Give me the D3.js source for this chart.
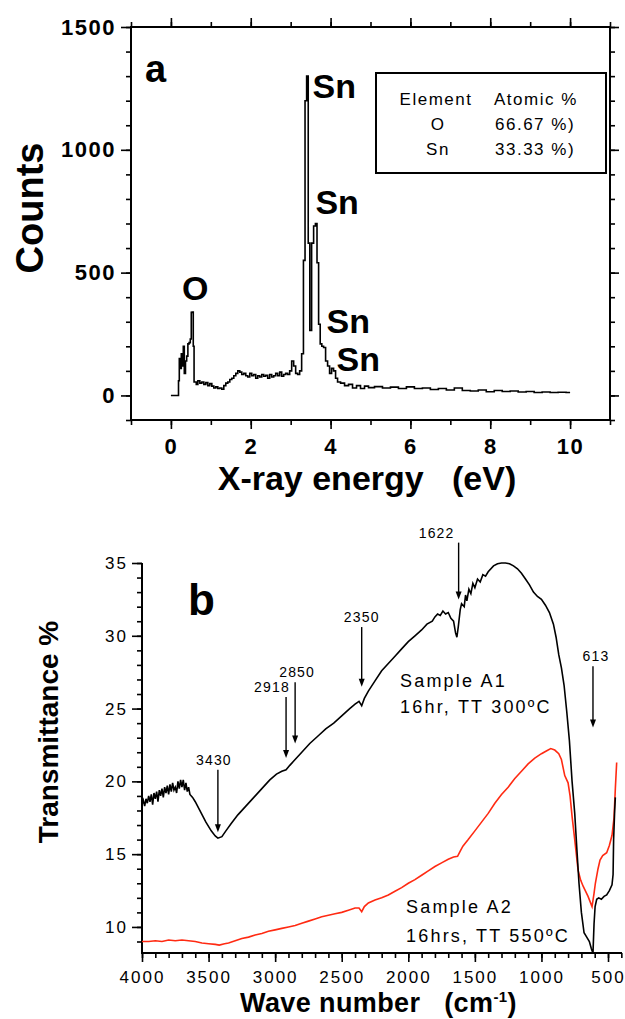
<!DOCTYPE html>
<html lang="en">
<head>
<meta charset="utf-8">
<script src="https://d3js.org/d3.v7.min.js"></script>
<style>
    body { margin: 0; background: #fff; }
    svg { display: block; font-family: "Liberation Sans", Arial, sans-serif; }
    .frame { fill: none; stroke: #000; stroke-width: 2px; }
    .axis line { stroke: #000; stroke-width: 1.6px; }
    .axis path { display: none; }
    .bold { font-weight: bold; }
</style>
</head>
<body>
<div id="chart"></div>
<script>
// ---- panel a : EDS spectrum ----
const edsEnergy = [0.00, 0.10, 0.18, 0.20, 0.22, 0.25, 0.27, 0.30, 0.32, 0.35, 0.38, 0.41, 0.44, 0.47, 0.50, 0.52, 0.55, 0.57, 0.59,
    0.62, 0.65, 0.70, 0.75, 0.80, 0.85, 0.90, 0.95, 1.00, 1.05, 1.10, 1.15, 1.20, 1.25, 1.30, 1.35, 1.40, 1.45, 1.50, 1.55, 1.60,
    1.65, 1.70, 1.75, 1.80, 1.85, 1.90, 1.95, 2.00, 2.05, 2.10, 2.15, 2.20, 2.25, 2.30, 2.35, 2.40, 2.45, 2.50, 2.55, 2.60, 2.65,
    2.70, 2.75, 2.80, 2.85, 2.90, 2.95, 3.00, 3.05, 3.10, 3.15, 3.20, 3.25, 3.30, 3.34, 3.38, 3.42, 3.46, 3.50, 3.55, 3.60, 3.64,
    3.68, 3.72, 3.76, 3.80, 3.85, 3.90, 3.95, 4.00, 4.05, 4.10, 4.15, 4.20, 4.30, 4.40, 4.50, 4.60, 4.70, 4.80, 4.90, 5.00, 5.20,
    5.40, 5.60, 5.80, 6.00, 6.20, 6.40, 6.60, 6.80, 7.00, 7.20, 7.40, 7.60, 7.80, 8.00, 8.20, 8.40, 8.60, 8.80, 9.00, 9.20, 9.40,
    9.60, 9.80, 10.00];
const edsCounts = [0, 0, 0, 60, 150, 110, 170, 120, 200, 90, 140, 160, 210, 215, 230, 338, 340, 200, 55,
    55, 45, 60, 50, 55, 45, 52, 40, 48, 38, 30, 35, 28, 30, 25, 40, 50, 55, 65, 70, 80,
    90, 100, 95, 85, 90, 80, 75, 90, 80, 85, 70, 80, 75, 85, 78, 82, 70, 85, 75, 80, 90,
    80, 95, 78, 85, 90, 85, 100, 140, 120, 90, 85, 100, 170, 550, 1200, 1300, 620, 265, 620, 690, 700,
    540, 290, 210, 200, 195, 140, 120, 90, 110, 100, 70, 55, 50, 40, 45, 30, 40, 28, 38, 32, 36,
    30, 34, 28, 35, 28, 30, 24, 28, 22, 30, 20, 18, 22, 15, 20, 16, 18, 14, 16, 12, 14,
    12, 13, 12];
const edsXTicks = [0, 2, 4, 6, 8, 10];
const edsYTicks = [0, 500, 1000, 1500];
const peakLabels = ['O', 'Sn', 'Sn', 'Sn', 'Sn'];
const tableHead = ['Element', 'Atomic %'];
const tableElements = ['O', 'Sn'];
const tableAtomic = ['66.67 %)', '33.33 %)'];

// ---- panel b : FTIR transmittance ----
const a1Wave = [4000, 3990, 3980, 3970, 3960, 3950, 3940, 3930, 3920, 3910, 3900, 3890, 3880, 3870, 3860, 3850, 3840, 3830,
    3820, 3810, 3800, 3790, 3780, 3770, 3760, 3750, 3740, 3730, 3720, 3710, 3700, 3690, 3680, 3670, 3660, 3650, 3640, 3620,
    3600, 3560, 3520, 3480, 3450, 3430, 3400, 3370, 3330, 3280, 3220, 3160, 3100, 3040, 2990, 2950, 2918, 2890,
    2850, 2800, 2740, 2680, 2620, 2560, 2500, 2440, 2400, 2370, 2350, 2330, 2300, 2250, 2200, 2150, 2100, 2050, 2000, 1950,
    1900, 1860, 1820, 1800, 1780, 1760, 1740, 1720, 1700, 1680, 1660, 1645, 1635, 1625, 1610, 1600, 1580, 1570, 1560, 1545,
    1530, 1515, 1500, 1480, 1460, 1440, 1420, 1400, 1360, 1330, 1300, 1270, 1240, 1210, 1180, 1150, 1120, 1090, 1060, 1030,
    1000, 970, 940, 910, 890, 870, 850, 830, 810, 790, 770, 750, 735, 718, 700, 680, 660, 640, 625, 613, 605, 597, 585, 570,
    550, 530, 510, 490, 470, 462, 458, 450, 445];
const a1Trans = [18.4, 18.7, 18.3, 18.8, 18.5, 19.0, 18.6, 19.1, 18.4, 19.2, 18.8, 19.3, 18.6, 19.4, 19.0, 19.5, 18.9, 19.6,
    19.2, 19.7, 19.1, 19.8, 19.3, 19.9, 19.4, 19.6, 19.2, 20.0, 19.5, 20.1, 19.6, 20.1, 19.4, 19.9, 19.3, 19.6, 19.1, 18.9,
    18.6, 17.9, 17.2, 16.6, 16.25, 16.1, 16.2, 16.6, 17.1, 17.7, 18.3, 18.9, 19.5, 20.1, 20.5, 20.7, 20.8, 21.1,
    21.5, 22.0, 22.6, 23.1, 23.6, 24.0, 24.5, 25.0, 25.3, 25.5, 25.2, 25.7, 26.2, 26.9, 27.6, 28.1, 28.6, 29.1, 29.6, 30.0,
    30.4, 30.8, 31.0, 31.3, 31.5, 31.4, 31.7, 31.5, 31.6, 31.2, 31.0, 30.2, 29.9, 30.6, 31.8, 32.2, 32.0, 32.8, 32.4, 33.2,
    32.9, 33.6, 33.3, 33.9, 33.7, 34.2, 34.1, 34.4, 34.8, 34.95, 35.0, 35.0, 34.95, 34.8, 34.6, 34.3, 33.9, 33.5, 33.0, 32.7,
    32.5, 32.1, 31.6, 30.8, 29.9, 28.7, 27.8, 26.6, 24.8, 22.8, 20.0, 17.8, 15.5, 13.0, 11.0, 9.6, 9.3, 9.0, 8.5, 8.2, 10.2, 11.4, 11.9, 12.0,
    11.9, 12.1, 12.2, 12.5, 12.9, 13.6, 16.0, 18.0, 18.9];
const a2Wave = [4000, 3950, 3900, 3850, 3800, 3750, 3700, 3650, 3600, 3550, 3500, 3450, 3420, 3380, 3350, 3300, 3250, 3200,
    3150, 3100, 3050, 3000, 2950, 2900, 2850, 2800, 2750, 2700, 2650, 2600, 2550, 2500, 2450, 2400, 2370, 2350, 2330, 2300,
    2250, 2200, 2150, 2100, 2050, 2000, 1950, 1900, 1850, 1800, 1750, 1700, 1660, 1630, 1610, 1590, 1550, 1500, 1450, 1400,
    1350, 1300, 1250, 1200, 1150, 1100, 1050, 1000, 960, 930, 900, 870, 850, 825, 800, 785, 770, 750, 725, 705, 687, 650,
    620, 605, 595, 575, 560, 540, 510, 490, 470, 455, 445, 435];
const a2Trans = [9.0, 9.0, 9.05, 9.0, 9.1, 9.05, 9.1, 9.05, 9.0, 8.9, 8.85, 8.8, 8.75, 8.85, 8.9, 9.05, 9.2, 9.3,
    9.45, 9.55, 9.7, 9.8, 9.9, 10.0, 10.1, 10.25, 10.4, 10.55, 10.7, 10.8, 10.9, 11.0, 11.15, 11.3, 11.3, 11.05, 11.4, 11.65,
    11.85, 12.0, 12.2, 12.45, 12.7, 13.0, 13.25, 13.55, 13.85, 14.15, 14.4, 14.65, 14.8, 14.85, 15.2, 15.55, 16.0, 16.6, 17.2, 17.8,
    18.5, 19.1, 19.6, 20.2, 20.7, 21.2, 21.6, 21.9, 22.1, 22.25, 22.15, 21.9, 21.5, 20.4, 19.9, 19.0, 17.6, 16.0, 13.9, 13.2, 12.8, 12.1,
    11.4, 12.3, 13.0, 14.0, 14.6, 14.9, 15.1, 15.6, 16.3, 17.5, 19.5, 21.3];
const irXTicks = [4000, 3500, 3000, 2500, 2000, 1500, 1000, 500];
const irYTicks = [10, 15, 20, 25, 30, 35];
// marked bands: wavenumber, arrow start and end (transmittance)
const bandWave = [3430, 2918, 2850, 2350, 1622, 613];
const bandFrom = [20.8, 25.8, 26.8, 30.6, 36.4, 27.9];
const bandTo = [16.5, 21.6, 22.6, 26.5, 32.5, 23.7];
const sampleNames = ['Sample A1', 'Sample A2'];
const sampleInfo = ['16hr, TT 300\u00baC', '16hrs, TT 550\u00baC'];

const svg = d3.select('#chart').append('svg')
    .attr('width', 625)
    .attr('height', 1019);

// ================= panel a =================
const xA = d3.scaleLinear().domain([-1, 11]).range([131, 610]);
const yA = d3.scaleLinear().domain([-100, 1500]).range([420, 27]);
const gA = svg.append('g');

function styleTicks(g, size, weight, spacing) {
    g.selectAll('text')
        .attr('font-family', '"Liberation Sans", Arial, sans-serif')
        .attr('font-size', size)
        .attr('font-weight', weight)
        .style('letter-spacing', spacing + 'px');
}

const aMinorX = d3.range(-1, 12, 1);
const aMinorY = d3.range(-100, 1501, 100);

// bottom
gA.append('g').attr('class', 'axis').attr('transform', 'translate(0,420)')
    .call(d3.axisBottom(xA).tickValues(aMinorX).tickSize(5).tickFormat(''));
gA.append('g').attr('class', 'axis').attr('transform', 'translate(0,420)')
    .call(d3.axisBottom(xA).tickValues(edsXTicks).tickSize(9).tickPadding(9).tickFormat(d3.format('d')))
    .call(g => styleTicks(g, 22, 'bold', 1.5));
// top
gA.append('g').attr('class', 'axis').attr('transform', 'translate(0,27)')
    .call(d3.axisTop(xA).tickValues(aMinorX).tickSize(5).tickFormat(''));
gA.append('g').attr('class', 'axis').attr('transform', 'translate(0,27)')
    .call(d3.axisTop(xA).tickValues(edsXTicks).tickSize(9).tickFormat(''));
// left
gA.append('g').attr('class', 'axis').attr('transform', 'translate(131,0)')
    .call(d3.axisLeft(yA).tickValues(aMinorY).tickSize(5).tickFormat(''));
gA.append('g').attr('class', 'axis').attr('transform', 'translate(131,0)')
    .call(d3.axisLeft(yA).tickValues(edsYTicks).tickSize(10).tickPadding(5).tickFormat(d3.format('d')))
    .call(g => styleTicks(g, 22, 'bold', 1.5));
// right
gA.append('g').attr('class', 'axis').attr('transform', 'translate(610,0)')
    .call(d3.axisRight(yA).tickValues(aMinorY).tickSize(5).tickFormat(''));
gA.append('g').attr('class', 'axis').attr('transform', 'translate(610,0)')
    .call(d3.axisRight(yA).tickValues(edsYTicks).tickSize(9).tickFormat(''));

gA.append('rect').attr('class', 'frame')
    .attr('x', 131).attr('y', 27).attr('width', 479).attr('height', 393);

// spectrum
const edsData = edsEnergy.map((e, i) => [e, edsCounts[i]]);
gA.append('path')
    .datum(edsData)
    .attr('fill', 'none')
    .attr('stroke', '#000')
    .attr('stroke-width', 1.6)
    .attr('d', d3.line().x(d => xA(d[0])).y(d => yA(d[1])).curve(d3.curveStep));

// peak labels (energy, counts of the label baseline)
const peakPos = [[0.28, 387], [3.55, 1210], [3.62, 740], [3.9, 255], [4.15, 100]];
gA.selectAll('.peak').data(peakLabels).enter().append('text')
    .attr('class', 'bold')
    .attr('x', (d, i) => xA(peakPos[i][0]))
    .attr('y', (d, i) => yA(peakPos[i][1]))
    .attr('font-size', 34)
    .text(d => d);

gA.append('text').attr('class', 'bold')
    .attr('x', 145).attr('y', 82).attr('font-size', 38).text('a');

// composition table
gA.append('rect').attr('class', 'frame')
    .attr('x', 376).attr('y', 73).attr('width', 230).attr('height', 100);
const tbl = gA.append('g').attr('font-size', 17).style('letter-spacing', '1.5px');
tbl.append('text').attr('x', 436).attr('y', 105).attr('text-anchor', 'middle').text(tableHead[0]);
tbl.append('text').attr('x', 494).attr('y', 105).text(tableHead[1]);
tableElements.forEach((el, i) => {
    tbl.append('text').attr('x', 438).attr('y', 130 + i * 25).attr('text-anchor', 'middle').text(el);
    tbl.append('text').attr('x', 495).attr('y', 130 + i * 25).text(tableAtomic[i]);
});

// axis titles
gA.append('text').attr('class', 'bold')
    .attr('transform', 'translate(43,208) rotate(-90)')
    .attr('text-anchor', 'middle')
    .attr('font-size', 38)
    .text('Counts');
gA.append('text').attr('class', 'bold')
    .attr('x', 367).attr('y', 490)
    .attr('text-anchor', 'middle')
    .attr('font-size', 34)
    .style('white-space', 'pre')
    .text('X-ray energy   (eV)');

// ================= panel b =================
const xB = d3.scaleLinear().domain([4000, 395]).range([142, 622]);
const yB = d3.scaleLinear().domain([8.21, 35]).range([953, 563]);
const gB = svg.append('g');

gB.append('g').attr('class', 'axis').attr('transform', 'translate(0,953)')
    .call(d3.axisBottom(xB).tickValues(d3.range(400, 4001, 100)).tickSize(5).tickFormat(''));
gB.append('g').attr('class', 'axis').attr('transform', 'translate(0,953)')
    .call(d3.axisBottom(xB).tickValues(irXTicks).tickSize(9).tickPadding(9).tickFormat(d3.format('d')))
    .call(g => styleTicks(g, 17, 'normal', 2));
gB.append('g').attr('class', 'axis').attr('transform', 'translate(142,0)')
    .call(d3.axisLeft(yB).tickValues(d3.range(9, 36, 1)).tickSize(5).tickFormat(''));
gB.append('g').attr('class', 'axis').attr('transform', 'translate(142,0)')
    .call(d3.axisLeft(yB).tickValues(irYTicks).tickSize(10).tickPadding(4).tickFormat(d3.format('d')))
    .call(g => styleTicks(g, 17, 'normal', 2));

gB.append('line').attr('x1', 142).attr('x2', 142).attr('y1', yB(35)).attr('y2', 953)
    .attr('stroke', '#000').attr('stroke-width', 2);
gB.append('line').attr('x1', 141).attr('x2', 622).attr('y1', 953).attr('y2', 953)
    .attr('stroke', '#000').attr('stroke-width', 2);

const irLine = d3.line().x(d => xB(d[0])).y(d => yB(d[1]));
gB.append('path')
    .datum(a2Wave.map((w, i) => [w, a2Trans[i]]))
    .attr('fill', 'none').attr('stroke', '#ff2a12').attr('stroke-width', 1.6)
    .attr('d', irLine);
gB.append('path')
    .datum(a1Wave.map((w, i) => [w, a1Trans[i]]))
    .attr('fill', 'none').attr('stroke', '#000').attr('stroke-width', 1.6)
    .attr('d', irLine);

// band arrows
const labelShift = [-4, -14, 2, 0, -22, 3];
bandWave.forEach((w, i) => {
    const x = xB(w), y0 = yB(bandFrom[i]), y1 = yB(bandTo[i]);
    gB.append('line').attr('x1', x).attr('x2', x).attr('y1', y0).attr('y2', y1 - 5)
        .attr('stroke', '#000').attr('stroke-width', 1.4);
    gB.append('path')
        .attr('d', `M${x - 3},${y1 - 8} L${x + 3},${y1 - 8} L${x},${y1} Z`)
        .attr('fill', '#000');
    gB.append('text')
        .attr('x', x + labelShift[i]).attr('y', y0 - 5)
        .attr('text-anchor', 'middle')
        .attr('font-size', 14)
        .style('letter-spacing', '1.2px')
        .text(w);
});

gB.append('text').attr('class', 'bold')
    .attr('x', 188).attr('y', 615).attr('font-size', 44).text('b');

const sampleY = [[687, 713], [913, 942]];
const sampleX = [400, 406];
sampleNames.forEach((s, i) => {
    const t = gB.append('g').attr('font-size', 18).style('letter-spacing', '2.2px');
    t.append('text').attr('x', sampleX[i]).attr('y', sampleY[i][0]).text(s);
    t.append('text').attr('x', sampleX[i]).attr('y', sampleY[i][1]).text(sampleInfo[i]);
});

gB.append('text').attr('class', 'bold')
    .attr('transform', 'translate(58,732) rotate(-90)')
    .attr('text-anchor', 'middle')
    .attr('font-size', 28)
    .text('Transmittance %');

const xt = gB.append('text').attr('class', 'bold')
    .attr('x', 240).attr('y', 1012)
    .attr('font-size', 27)
    .style('letter-spacing', '0.4px')
    .style('white-space', 'pre');
xt.append('tspan').text('Wave number   (cm');
xt.append('tspan').attr('font-size', 15).attr('dy', -10).text('-1');
xt.append('tspan').attr('dy', 10).text(')');
</script>
</body>
</html>
